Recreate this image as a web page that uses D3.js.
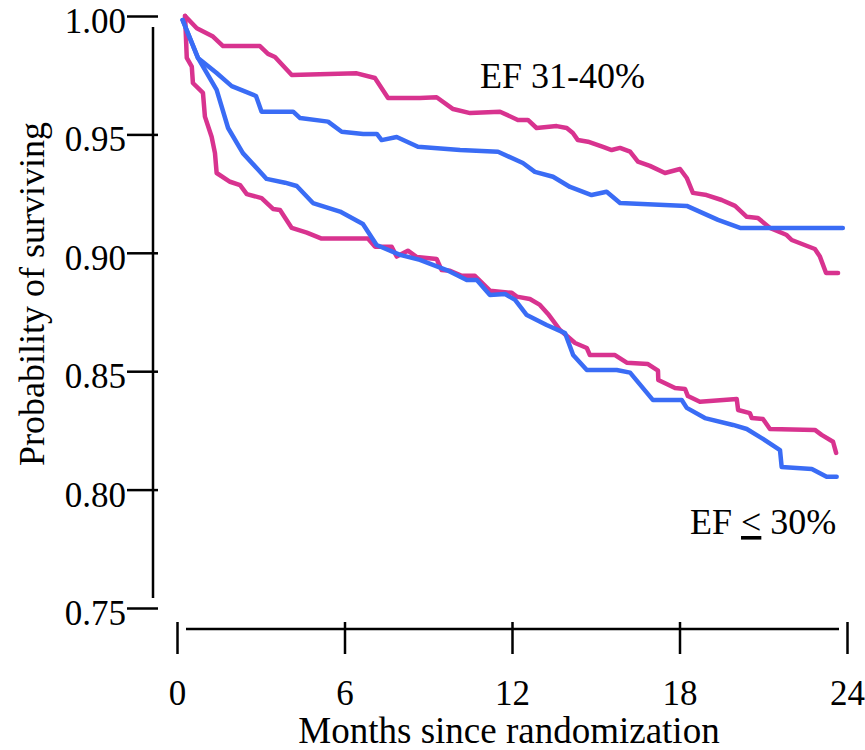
<!DOCTYPE html>
<html>
<head>
<meta charset="utf-8">
<script src="https://cdn.jsdelivr.net/npm/d3@7"></script>
<style>
  html, body { margin: 0; padding: 0; background: #fff; }
  svg { display: block; }
  text { font-family: "Liberation Serif", "Times New Roman", serif; fill: #000; }
</style>
</head>
<body>
<svg id="chart" width="865" height="750"></svg>
<script>
// ---- data (months, probability of surviving) ----
const xTicks = [0, 6, 12, 18, 24];
const yTicks = [0.75, 0.80, 0.85, 0.90, 0.95, 1.00];
const yTickLabels = ["0.75", "0.80", "0.85", "0.90", "0.95", "1.00"];

const upperMagenta = [
  [0.29,1.000],[0.71,0.9948],[1.29,0.9913],[1.65,0.9873],[2.97,0.9873],[3.26,0.9840],[3.51,0.9827],
  [4.11,0.9751],[6.44,0.9758],[7.09,0.9738],[7.56,0.9654],[8.70,0.9654],[9.30,0.9657],[9.89,0.9607],
  [10.50,0.9590],[11.57,0.9596],[12.21,0.9561],[12.57,0.9561],[12.88,0.9527],[13.60,0.9535],
  [13.96,0.9527],[14.18,0.9506],[14.36,0.9476],[14.72,0.9469],[15.26,0.9447],[15.57,0.9434],
  [15.87,0.9443],[16.23,0.9427],[16.51,0.9385],[16.94,0.9367],[17.48,0.9337],[18.02,0.9354],
  [18.26,0.9316],[18.48,0.9253],[18.97,0.9244],[19.51,0.9223],[19.99,0.9198],[20.41,0.9152],
  [20.81,0.9147],[21.24,0.9105],[21.84,0.9075],[22.02,0.9054],[22.85,0.9016],[23.03,0.8984],
  [23.25,0.8915],[23.68,0.8915]
];
const upperBlue = [
  [0.20,0.9983],[0.75,0.9823],[1.42,0.9759],[1.96,0.9704],[2.36,0.9685],[2.83,0.9662],[3.03,0.9596],
  [4.16,0.9596],[4.41,0.9569],[5.41,0.9554],[5.90,0.9511],[6.67,0.9502],[7.16,0.9502],[7.33,0.9476],
  [7.87,0.9489],[8.63,0.9448],[10.14,0.9434],[11.50,0.9427],[12.39,0.9379],[12.82,0.9342],
  [13.47,0.9321],[14.08,0.9278],[14.85,0.9244],[15.39,0.9258],[15.87,0.9210],[18.26,0.9198],
  [19.38,0.9139],[20.17,0.9105],[23.85,0.9105]
];
const lowerMagenta = [
  [0.29,1.000],[0.35,0.9823],[0.53,0.9786],[0.57,0.9717],[0.93,0.9675],[1.00,0.9575],[1.24,0.9490],
  [1.36,0.9421],[1.42,0.9337],[1.90,0.9300],[2.26,0.9286],[2.50,0.9248],[3.03,0.9231],[3.44,0.9185],
  [3.69,0.9181],[4.11,0.9105],[4.65,0.9085],[5.18,0.9060],[6.84,0.9060],[7.09,0.9026],[7.69,0.9026],
  [7.87,0.8984],[8.27,0.9009],[8.59,0.8982],[9.30,0.8974],[9.48,0.8927],[9.78,0.8924],[10.20,0.8903],
  [10.67,0.8903],[11.21,0.8840],[11.99,0.8831],[12.17,0.8815],[12.64,0.8805],[13.00,0.8780],
  [13.29,0.8742],[13.72,0.8674],[14.26,0.8619],[14.68,0.8598],[14.79,0.8568],[15.69,0.8568],
  [16.11,0.8536],[16.87,0.8530],[17.23,0.8502],[17.24,0.8463],[17.84,0.8429],[18.20,0.8425],
  [18.30,0.8395],[18.73,0.8371],[20.05,0.8383],[20.10,0.8336],[20.52,0.8323],[20.59,0.8302],
  [20.99,0.8298],[21.24,0.8256],[22.85,0.8252],[23.09,0.8231],[23.50,0.8202],[23.61,0.8155]
];
const lowerBlue = [
  [0.20,0.9983],[0.75,0.9823],[1.42,0.9688],[1.83,0.9527],[2.36,0.9421],[3.21,0.9312],[3.87,0.9296],
  [4.29,0.9282],[4.87,0.9210],[5.84,0.9174],[6.66,0.9122],[7.15,0.9033],[7.99,0.8991],[8.70,0.8970],
  [9.66,0.8927],[10.38,0.8885],[10.74,0.8885],[11.21,0.8822],[11.75,0.8826],[12.11,0.8801],
  [12.53,0.8737],[13.24,0.8695],[13.90,0.8661],[14.19,0.8568],[14.68,0.8505],[15.75,0.8505],
  [16.23,0.8494],[17.05,0.8378],[18.08,0.8378],[18.26,0.8345],[18.91,0.8302],[19.92,0.8273],
  [20.41,0.8256],[20.99,0.8214],[21.60,0.8167],[21.66,0.8095],[22.74,0.8087],[23.27,0.8054],
  [23.63,0.8054]
];

const series = [
  { name: "upperMagenta", data: upperMagenta, color: "#d8338f" },
  { name: "lowerMagenta", data: lowerMagenta, color: "#d8338f" },
  { name: "upperBlue", data: upperBlue, color: "#3a6cf5" },
  { name: "lowerBlue", data: lowerBlue, color: "#3a6cf5" }
];

// ---- drawing ----
const SERIF = '"Liberation Serif", "Times New Roman", serif';
const svg = d3.select("#chart");
const x = d3.scaleLinear().domain([0, 24]).range([177, 847]);
const y = d3.scaleLinear().domain([0.75, 1.00]).range([608, 16]);

const FS = 35;

// Y axis
const yAxis = d3.axisLeft(y).tickValues(yTicks)
  .tickFormat((d, i) => yTickLabels[i]).tickSize(31).tickPadding(1).tickSizeOuter(0);
const gy = svg.append("g").attr("transform", "translate(158,0)").call(yAxis)
  .attr("font-family", SERIF).attr("font-size", FS);
gy.select(".domain").remove();
gy.selectAll(".tick line").attr("stroke", "#000").attr("stroke-width", 2.5);
gy.selectAll(".tick text").attr("font-size", FS).attr("dy", "0.47em")
  .attr("font-family", SERIF).attr("fill", "#000");
svg.append("line")
  .attr("x1", 153).attr("x2", 153)
  .attr("y1", y(1.00) + 11).attr("y2", y(0.75) - 10)
  .attr("stroke", "#000").attr("stroke-width", 2.5);

// X axis
const xAxis = d3.axisBottom(x).tickValues(xTicks).tickFormat(d3.format("d"))
  .tickSize(32).tickPadding(26).tickSizeOuter(0);
const gx = svg.append("g").attr("transform", "translate(0,622)").call(xAxis)
  .attr("font-family", SERIF).attr("font-size", FS);
gx.select(".domain").remove();
gx.selectAll(".tick line").attr("stroke", "#000").attr("stroke-width", 2.5);
gx.selectAll(".tick text").attr("font-size", FS)
  .attr("font-family", SERIF).attr("fill", "#000");
svg.append("line")
  .attr("x1", x(0) + 9).attr("x2", x(24) - 8)
  .attr("y1", 629).attr("y2", 629)
  .attr("stroke", "#000").attr("stroke-width", 2.5);

// Curves
const line = d3.line().x(d => x(d[0])).y(d => y(d[1])).curve(d3.curveLinear);
svg.append("g").selectAll("path").data(series).join("path")
  .attr("d", d => line(d.data))
  .attr("fill", "none")
  .attr("stroke", d => d.color)
  .attr("stroke-width", 4.5)
  .attr("stroke-linejoin", "round")
  .attr("stroke-linecap", "round");

// Axis titles
svg.append("text")
  .attr("transform", "translate(44,294) rotate(-90)")
  .attr("text-anchor", "middle")
  .attr("font-family", SERIF)
  .attr("font-size", 36)
  .text("Probability of surviving");
svg.append("text")
  .attr("x", 509).attr("y", 743)
  .attr("text-anchor", "middle")
  .attr("font-family", SERIF)
  .attr("font-size", 37)
  .text("Months since randomization");

// Group labels
svg.append("text")
  .attr("x", 480).attr("y", 88)
  .attr("font-family", SERIF)
  .attr("font-size", 36)
  .text("EF 31-40%");
const lab2 = svg.append("text").attr("x", 690).attr("y", 534)
  .attr("font-family", SERIF).attr("font-size", 36);
lab2.append("tspan").text("EF ");
lab2.append("tspan").style("text-decoration", "underline").text("<");
lab2.append("tspan").text(" 30%");
</script>
</body>
</html>
